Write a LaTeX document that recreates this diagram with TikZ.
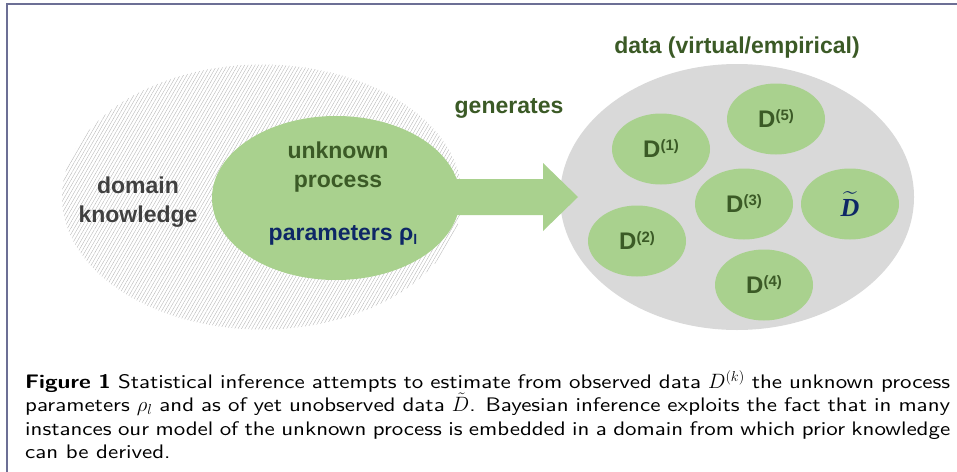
\documentclass[tikz,border=0pt]{standalone}
\usepackage{fontspec}
\usepackage{amsmath}
\usetikzlibrary{shapes.geometric,patterns.meta}
\newfontfamily\arialfont{Liberation Sans}
\newfontfamily\serifbf{Liberation Serif}
\newfontfamily\capfont{lmsans10-regular.otf}[BoldFont=lmsans10-bold.otf, FakeStretch=1.17]
\definecolor{lgreen}{HTML}{A9D18E}
\definecolor{dgreen}{HTML}{3B5A26}
\definecolor{navy}{HTML}{0E2766}
\definecolor{lgrey}{HTML}{D9D9D9}
\definecolor{dgrey}{HTML}{404040}
\definecolor{frame}{HTML}{6C6F95}
\newcommand{\supx}[1]{\raisebox{7pt}{\fontsize{15}{15}\selectfont #1}}
\tikzset{
  blob/.style={ellipse, fill=lgreen, inner sep=0pt},
  dbox/.style={blob, minimum width=98pt, minimum height=71pt,
     font=\arialfont\bfseries\fontsize{24}{28}\selectfont, text=dgreen},
  lab/.style={font=\arialfont\bfseries\fontsize{23}{29}\selectfont, inner sep=0pt},
}
\begin{document}
\begin{tikzpicture}[x=1pt,y=-1pt]
\useasboundingbox (0,0) rectangle (957,471);
% frame
\draw[frame, line width=2pt] (7,472) -- (7,3.5) -- (958,3.5);
% domain knowledge (hatched)
\node[ellipse, minimum width=400pt, minimum height=265pt, inner sep=0pt,
      pattern={Lines[angle=60,distance=3pt,line width=0.35pt]}, pattern color=gray!60]
      (dom) at (262,197) {};
% data container
\node[ellipse, fill=lgrey, minimum width=354pt, minimum height=266pt, inner sep=0pt]
      (data) at (737,197) {};
% data sets
\node[dbox] (d1) at (661,149) {D\supx{(1)}};
\node[dbox] (d5) at (776,119) {D\supx{(5)}};
\node[dbox] (d3) at (744,204) {D\supx{(3)}};
\node[dbox] (d2) at (637,241) {D\supx{(2)}};
\node[dbox] (d4) at (764,285) {D\supx{(4)}};
\node[dbox, text=navy] (dt) at (850,204)
  {$\widetilde{\text{\serifbf\bfseries\itshape\fontsize{26}{28}\selectfont D}}$};
% process ellipse
\node[blob, minimum width=248pt, minimum height=164pt] (proc) at (336,198) {};
% generates arrow
\coordinate (a0) at (455,197);
\fill[lgreen] (a0) ++(0,-18) -- (543,179) -- (543,163) -- (578,197) -- (543,231) -- (543,215) -- ++(-88,0) -- cycle;
% texts
\node[lab, text=dgreen, anchor=base] (tdata) at (737,53) {data (virtual/empirical)};
\node[lab, text=dgreen, anchor=base] (tgen) at (509,113) {generates};
\node[lab, text=dgrey, anchor=base, align=center] (tdom) at (138,222) {domain\\knowledge};
\node[lab, text=dgreen, anchor=base, align=center] (tproc) at (338,187) {unknown\\process};
\node[lab, text=navy, anchor=base] (tpar) at (343,240)
  {parameters ρ\raisebox{-4pt}{\fontsize{14}{14}\selectfont l}};
% caption
\node[anchor=north west, text width=925pt, align=justify, inner sep=0pt,
      font=\capfont\fontsize{19.6}{23.3}\selectfont] (cap) at (25,370)
  {\textbf{Figure 1} Statistical inference attempts to estimate from observed data $D^{(k)}$ the unknown process\linebreak parameters $\rho_l$ and as of yet unobserved data $\tilde{D}$. Bayesian inference exploits the fact that in many\linebreak instances our model of the unknown process is embedded in a domain from which prior knowledge\linebreak can be derived.};
\end{tikzpicture}
\end{document}
